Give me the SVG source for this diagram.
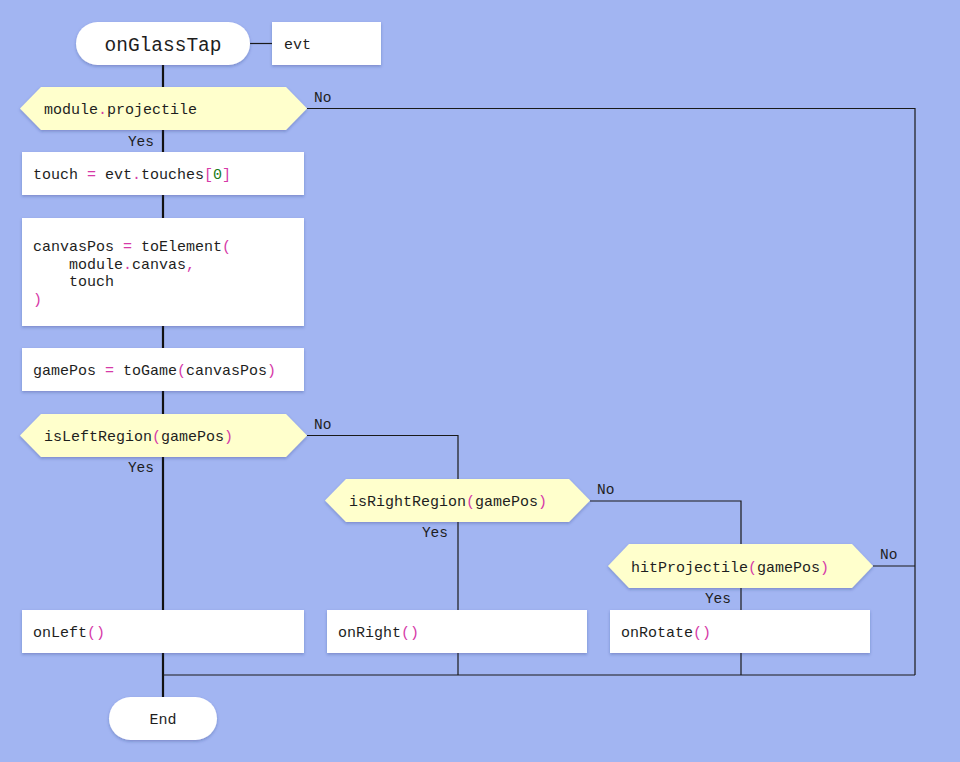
<svg xmlns="http://www.w3.org/2000/svg" width="960" height="762" viewBox="0 0 960 762">
<style>
.bg{fill:#a2b5f2}
.box{fill:#ffffff;filter:url(#sh)}
.dec{fill:#ffffcc;filter:url(#sh)}
.t{font-family:"Liberation Mono","DejaVu Sans Mono",monospace;font-size:15px;fill:#1e1e1e}
.lbl{font-family:"Liberation Mono","DejaVu Sans Mono",monospace;font-size:14.5px;fill:#1e1e1e}
.p{fill:#d63aa8}
.n{fill:#1a7a1a}
.thin{fill:none;stroke:#1a1a1a;stroke-width:1.2}
.thick{fill:none;stroke:#111;stroke-width:2.2}
</style>
<defs>
<filter id="sh" x="-10%" y="-20%" width="120%" height="150%">
<feDropShadow dx="0" dy="1.5" stdDeviation="1.8" flood-color="#203070" flood-opacity="0.3"/>
</filter>
</defs>
<rect class="bg" x="0" y="0" width="960" height="762"/>
<g id="connectors">
<path class="thick" d="M163 65 V697"/>
<path class="thin" d="M250 43.5 H272"/>
<path class="thin" d="M307 108.5 H915 V675"/>
<path class="thin" d="M307 435.5 H458 V479"/>
<path class="thin" d="M458 522 V675"/>
<path class="thin" d="M590 501 H741 V544"/>
<path class="thin" d="M741 588 V675"/>
<path class="thin" d="M873 566 H915"/>
<path class="thin" d="M163 675 H915"/>
<text class="lbl" x="314" y="102">No</text>
<text class="lbl" x="154" y="146" text-anchor="end">Yes</text>
<text class="lbl" x="314" y="429">No</text>
<text class="lbl" x="154" y="472" text-anchor="end">Yes</text>
<text class="lbl" x="597" y="494">No</text>
<text class="lbl" x="448" y="537" text-anchor="end">Yes</text>
<text class="lbl" x="880" y="559">No</text>
<text class="lbl" x="731" y="603" text-anchor="end">Yes</text>
</g>
<g id="start">
<rect class="box" x="76" y="22" width="174" height="43" rx="21.5"/>
<text class="t" x="163" y="50.5" text-anchor="middle" style="font-size:19.5px">onGlassTap</text>
</g>
<g id="evt">
<rect class="box" x="272" y="22" width="109" height="43"/>
<text class="t" x="284" y="49">evt</text>
</g>
<g id="dec-projectile">
<polygon class="dec" points="20,108.5 41,87 286,87 307,108.5 286,130 41,130"/>
<text class="t" x="44" y="114">module<tspan class="p">.</tspan>projectile</text>
</g>
<g id="touch">
<rect class="box" x="22" y="152" width="282" height="43"/>
<text class="t" x="33" y="179">touch <tspan class="p">=</tspan> evt<tspan class="p">.</tspan>touches<tspan class="p">[</tspan><tspan class="n">0</tspan><tspan class="p">]</tspan></text>
</g>
<g id="canvasPos">
<rect class="box" x="22" y="218" width="282" height="108"/>
<text class="t" x="33" y="251">canvasPos <tspan class="p">=</tspan> toElement<tspan class="p">(</tspan></text>
<text class="t" x="33" y="268.5" xml:space="preserve">    module<tspan class="p">.</tspan>canvas<tspan class="p">,</tspan></text>
<text class="t" x="33" y="286" xml:space="preserve">    touch</text>
<text class="t" x="33" y="303.5"><tspan class="p">)</tspan></text>
</g>
<g id="gamePos">
<rect class="box" x="22" y="348" width="282" height="43"/>
<text class="t" x="33" y="375">gamePos <tspan class="p">=</tspan> toGame<tspan class="p">(</tspan>canvasPos<tspan class="p">)</tspan></text>
</g>
<g id="dec-left">
<polygon class="dec" points="20,435.5 41,414 286,414 307,435.5 286,457 41,457"/>
<text class="t" x="44" y="441">isLeftRegion<tspan class="p">(</tspan>gamePos<tspan class="p">)</tspan></text>
</g>
<g id="dec-right">
<polygon class="dec" points="325,500.5 346,479 569,479 590,500.5 569,522 346,522"/>
<text class="t" x="349" y="506">isRightRegion<tspan class="p">(</tspan>gamePos<tspan class="p">)</tspan></text>
</g>
<g id="dec-hit">
<polygon class="dec" points="608,566 629,544 852,544 873,566 852,588 629,588"/>
<text class="t" x="631" y="571.5">hitProjectile<tspan class="p">(</tspan>gamePos<tspan class="p">)</tspan></text>
</g>
<g id="onLeft">
<rect class="box" x="22" y="610" width="282" height="43"/>
<text class="t" x="33" y="637">onLeft<tspan class="p">()</tspan></text>
</g>
<g id="onRight">
<rect class="box" x="327" y="610" width="260" height="43"/>
<text class="t" x="338" y="637">onRight<tspan class="p">()</tspan></text>
</g>
<g id="onRotate">
<rect class="box" x="610" y="610" width="260" height="43"/>
<text class="t" x="621" y="637">onRotate<tspan class="p">()</tspan></text>
</g>
<g id="end">
<rect class="box" x="109" y="697" width="108" height="43" rx="21.5"/>
<text class="t" x="163" y="724" text-anchor="middle">End</text>
</g>
</svg>
